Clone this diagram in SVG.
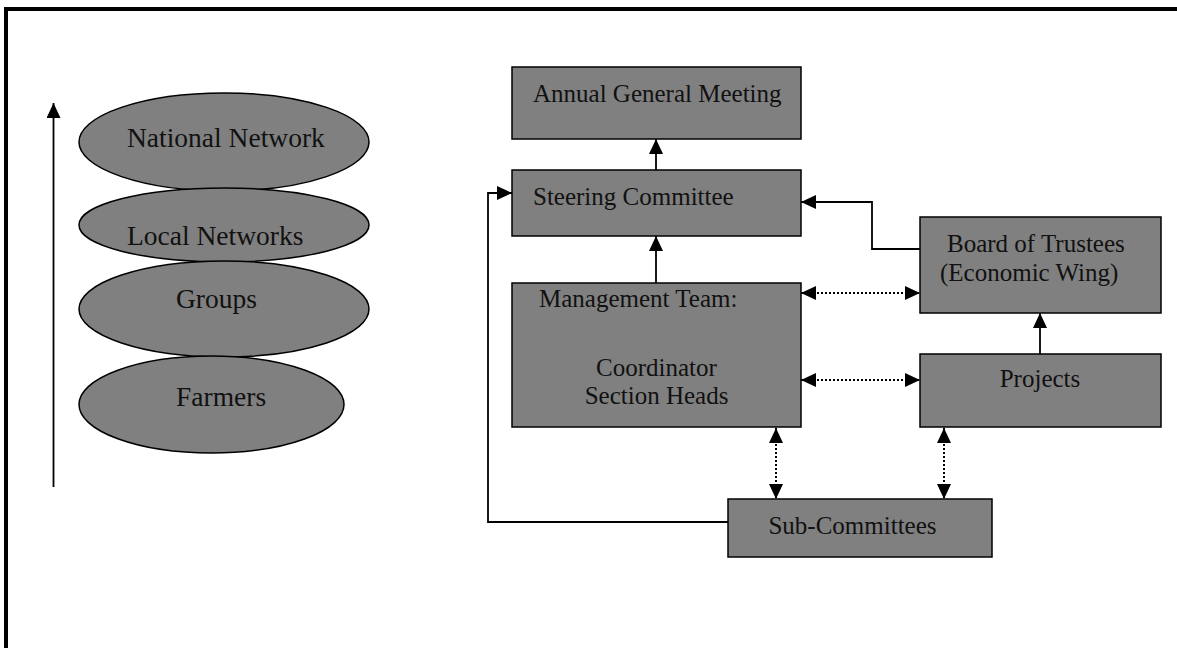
<svg xmlns="http://www.w3.org/2000/svg" width="1177" height="648" viewBox="0 0 1177 648">
  <style>
    .frame { fill: none; stroke: #000; stroke-width: 4; }
    .level { fill: #808080; stroke: #000; stroke-width: 1.5; }
    .box { fill: #808080; stroke: #000; stroke-width: 1.5; }
    .lbl { font-family: "Liberation Serif", "Times New Roman", serif; fill: #111; }
    .big { font-size: 27.5px; }
    .mid { font-size: 25px; }
    .link { fill: none; stroke: #000; stroke-width: 1.8; }
    .dots { fill: none; stroke: #000; stroke-width: 2; stroke-dasharray: 2 2; }
  </style>
  <defs>
    <marker id="head" markerUnits="userSpaceOnUse" markerWidth="16" markerHeight="14" refX="15" refY="7" orient="auto-start-reverse">
      <path d="M0,0 L15,7 L0,14 z" fill="#000"/>
    </marker>
  </defs>

  <rect width="1177" height="648" fill="#fff"/>
  <path class="frame" d="M6 648 V9 H1177"/>

  <!-- hierarchy of levels -->
  <g id="levels-arrow">
    <path class="link" d="M53.5 487 V103" marker-end="url(#head)"/>
  </g>
  <g id="national-network">
    <ellipse class="level" cx="224" cy="142" rx="145" ry="49"/>
    <text class="lbl big" x="127" y="147">National Network</text>
  </g>
  <g id="local-networks">
    <ellipse class="level" cx="224" cy="225" rx="145" ry="37"/>
    <text class="lbl big" x="127" y="245">Local Networks</text>
  </g>
  <g id="groups">
    <ellipse class="level" cx="224" cy="309" rx="145" ry="48"/>
    <text class="lbl big" x="176" y="308">Groups</text>
  </g>
  <g id="farmers">
    <ellipse class="level" cx="211.5" cy="404.5" rx="132.5" ry="48.5"/>
    <text class="lbl big" x="176" y="406">Farmers</text>
  </g>

  <!-- organisation chart -->
  <g id="connectors">
    <path class="link" d="M656 170 V139" marker-end="url(#head)"/>
    <path class="link" d="M656 283 V236" marker-end="url(#head)"/>
    <path class="link" d="M728 522 H488 V193 H512" marker-end="url(#head)"/>
    <path class="link" d="M920 249 H872 V202 H801" marker-end="url(#head)"/>
    <path class="link" d="M1040 354 V313" marker-end="url(#head)"/>
    <path class="dots" d="M801 293 H920" marker-start="url(#head)" marker-end="url(#head)"/>
    <path class="dots" d="M801 380 H920" marker-start="url(#head)" marker-end="url(#head)"/>
    <path class="dots" d="M776 428 V499" marker-start="url(#head)" marker-end="url(#head)"/>
    <path class="dots" d="M944 428 V499" marker-start="url(#head)" marker-end="url(#head)"/>
  </g>

  <g id="annual-general-meeting">
    <rect class="box" x="512" y="67" width="289" height="72"/>
    <text class="lbl mid" x="533" y="102">Annual General Meeting</text>
  </g>
  <g id="steering-committee">
    <rect class="box" x="512" y="170" width="289" height="66"/>
    <text class="lbl mid" x="533" y="205">Steering Committee</text>
  </g>
  <g id="management-team">
    <rect class="box" x="512" y="283" width="289" height="144"/>
    <text class="lbl mid" x="539" y="307">Management Team:</text>
    <text class="lbl mid" x="656.5" y="376" text-anchor="middle">Coordinator</text>
    <text class="lbl mid" x="656.5" y="404" text-anchor="middle">Section Heads</text>
  </g>
  <g id="board-of-trustees">
    <rect class="box" x="920" y="217" width="241" height="96"/>
    <text class="lbl mid" x="947" y="252">Board of Trustees</text>
    <text class="lbl mid" x="940" y="281">(Economic Wing)</text>
  </g>
  <g id="projects">
    <rect class="box" x="920" y="354" width="241" height="73"/>
    <text class="lbl mid" x="1040" y="387" text-anchor="middle">Projects</text>
  </g>
  <g id="sub-committees">
    <rect class="box" x="728" y="499" width="264" height="58"/>
    <text class="lbl mid" x="852.5" y="534" text-anchor="middle">Sub-Committees</text>
  </g>
</svg>
